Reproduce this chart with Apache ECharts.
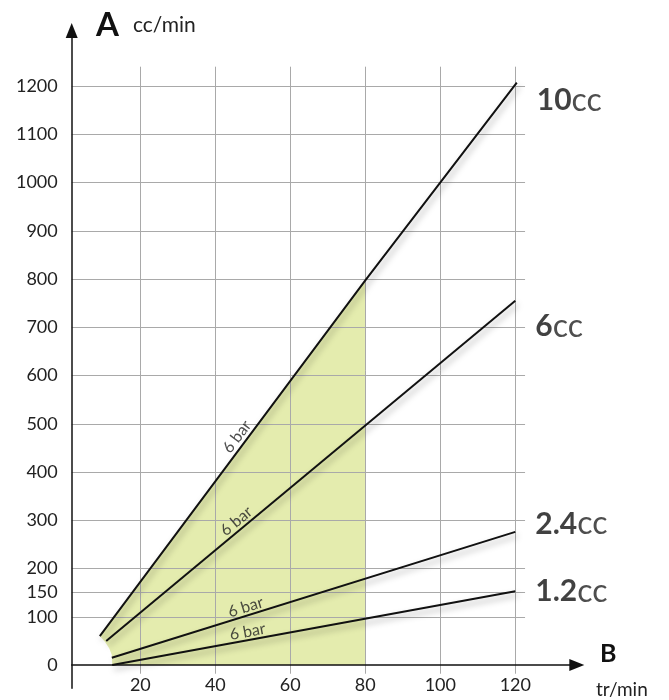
<!DOCTYPE html>
<html>
<head>
<meta charset="utf-8">
<script src="https://cdn.jsdelivr.net/npm/echarts@6/dist/echarts.min.js"></script>
<style>
html, body { margin: 0; padding: 0; background: #fff; }
#pump-chart-box { width: 669px; height: 700px; }
</style>
</head>
<body>
<div id="pump-chart-box"></div>
<script>
// axis ticks
var xTicks = [20, 40, 60, 80, 100, 120];
var yTicks = [0, 100, 150, 200, 300, 400, 500, 600, 700, 800, 900, 1000, 1100, 1200];
var gridRows = [100, 150, 200, 300, 400, 500, 600, 700, 800, 900, 1000, 1100, 1200];

// flow lines at 6 bar, [tr/min, cc/min]
var line10 = [[9.2, 60], [80, 797], [120.4, 1207]];
var line6 = [[10.9, 50], [120, 755]];
var line24 = [[12.4, 15], [120, 276]];
var line12 = [[12.5, 0], [120, 153]];
var lineNames = ['10', '6', '2.4', '1.2'];

// green zone: left edge, then up the 10cc line to 80 tr/min
var zoneEdge = [[12.5, 0], [12.4, 21], [11.7, 35], [10.6, 48], [9.2, 60], [80, 797]];

// "6 bar" tags on each line
var barTags = [[45.8, 473], [45.6, 298], [48.1, 120], [48.6, 69]];
var barText = '6 bar';

var font = 'Lato';

var myChart = echarts.init(document.getElementById('pump-chart-box'));

var gridData = [];
xTicks.forEach(function (x) {
    gridData.push({ coords: [[x, -18], [x, 1240]] });
});
gridRows.forEach(function (y) {
    gridData.push({ coords: [[1.7, y], [122.6, y]] });
});

var lineStyle = {
    color: '#111',
    width: 2,
    shadowColor: 'rgba(0,0,0,0.35)',
    shadowBlur: 6,
    shadowOffsetX: 2,
    shadowOffsetY: 4
};

function flowSeries(name, data) {
    return {
        name: name,
        type: 'line',
        data: data,
        symbol: 'none',
        z: 5,
        lineStyle: lineStyle,
        silent: true
    };
}

var allLines = [line10, line6, line24, line12];
var tagAngles = [53, 39.8, 17.3, 10.4];
var nameOffsets = [[0, 18], [0, 26], [0, -8], [0, 0]];

var option = {
    animation: false,
    grid: {
        left: 71.7,
        right: 92.2,
        top: 30.5,
        bottom: 11.8
    },
    xAxis: {
        type: 'value',
        min: 1.7,
        max: 136.4,
        z: 6,
        position: 'bottom',
        offset: -23.2,
        splitLine: { show: false },
        axisTick: { show: false },
        axisLine: {
            show: true,
            onZero: false,
            symbol: ['none', 'triangle'],
            symbolSize: [12, 15],
            lineStyle: { color: '#111', width: 1.5 }
        },
        axisLabel: {
            show: true,
            customValues: xTicks,
            hideOverlap: false,
            margin: 11,
            color: '#222',
            fontSize: 18,
            fontFamily: font
        }
    },
    yAxis: {
        type: 'value',
        min: -48,
        max: 1315,
        z: 6,
        splitLine: { show: false },
        axisTick: { show: false },
        axisLine: {
            show: true,
            onZero: false,
            symbol: ['none', 'triangle'],
            symbolSize: [12, 15],
            lineStyle: { color: '#111', width: 1.5 }
        },
        axisLabel: {
            customValues: yTicks,
            margin: 14,
            color: '#222',
            fontSize: 18,
            fontFamily: font,
            formatter: function (v) {
                return String(v);
            }
        }
    },
    graphic: [
        { type: 'text', left: 96, top: 9, style: { text: 'A', font: 'bold 33px ' + font, fill: '#111' } },
        { type: 'text', left: 133, top: 15, style: { text: 'cc/min', font: '21px ' + font, fill: '#222' } },
        { type: 'text', left: 600, top: 641, style: { text: 'B', font: 'bold 25px ' + font, fill: '#111' } },
        { type: 'text', left: 596, top: 680, style: { text: 'tr/min', font: '19px ' + font, fill: '#222' } }
    ],
    series: [
        {
            type: 'line',
            data: zoneEdge,
            symbol: 'none',
            z: 1,
            silent: true,
            lineStyle: { width: 0, opacity: 0 },
            areaStyle: { color: '#e4ecae', opacity: 1 }
        },
        {
            type: 'lines',
            coordinateSystem: 'cartesian2d',
            data: gridData,
            z: 2,
            silent: true,
            lineStyle: { color: '#a9a9a9', width: 1, opacity: 1, curveness: 0 }
        },
        flowSeries(lineNames[0], line10),
        flowSeries(lineNames[1], line6),
        flowSeries(lineNames[2], line24),
        flowSeries(lineNames[3], line12),
        {
            type: 'scatter',
            symbolSize: 0,
            z: 7,
            silent: true,
            data: barTags.map(function (p, i) {
                return { value: p, label: { rotate: tagAngles[i] } };
            }),
            label: {
                show: true,
                position: 'inside',
                formatter: barText,
                fontSize: 16,
                fontFamily: font,
                color: '#222'
            }
        },
        {
            type: 'scatter',
            symbolSize: 0,
            z: 7,
            silent: true,
            data: allLines.map(function (l, i) {
                return { value: l[l.length - 1], name: lineNames[i], label: { offset: nameOffsets[i] } };
            }),
            label: {
                show: true,
                position: 'right',
                distance: 20,
                formatter: function (p) {
                    return '{n|' + p.name + '}{u|cc}';
                },
                rich: {
                    n: { fontSize: 30, fontWeight: 'bold', fontFamily: font, color: '#111' },
                    u: { fontSize: 32, fontFamily: font, color: '#222' }
                }
            }
        }
    ]
};

myChart.setOption(option);
</script>
</body>
</html>
